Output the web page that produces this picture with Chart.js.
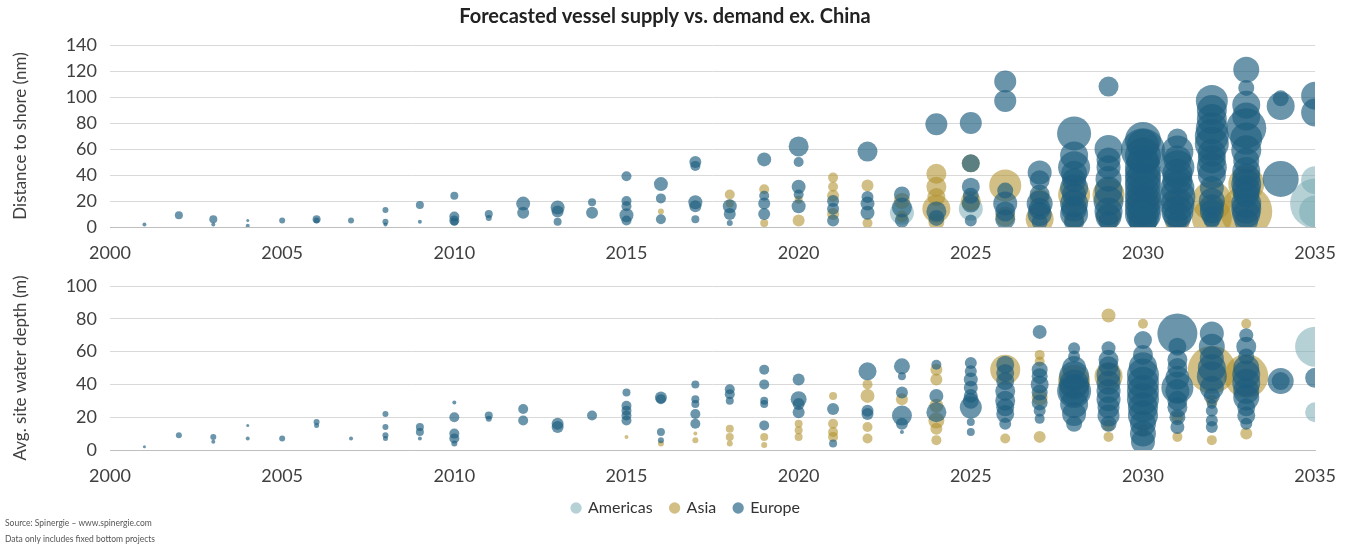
<!DOCTYPE html>
<html>
<head>
<meta charset="utf-8">
<script src="https://cdn.jsdelivr.net/npm/chart.js@4.4.1/dist/chart.umd.min.js"></script>
<style>
  html, body { margin: 0; padding: 0; background: #fff; }
  #wrap { position: relative; width: 1351px; height: 548px; overflow: hidden; }
  #shoreChart { position: absolute; left: 0; top: 0; }
  #depthChart { position: absolute; left: 0; top: 262px; }
  #note { position: absolute; left: 5px; top: 515px; font: 8.5px Lato, sans-serif; color: #555; line-height: 16px; }
</style>
</head>
<body>
<div id="wrap">
  <canvas id="shoreChart" width="1351" height="262"></canvas>
  <canvas id="depthChart" width="1351" height="286"></canvas>
  <div id="note">Source: Spinergie – www.spinergie.com<br>Data only includes fixed bottom projects</div>
</div>
<script>
// Region names shown in the legend
const regions = ['Americas', 'Asia', 'Europe'];
const xTicks = [2000, 2005, 2010, 2015, 2020, 2025, 2030, 2035];

// Distance to shore (nm): [commissioning year, distance, bubble radius]
const shoreAmericas = [
  [2023, 11, 12], [2025, 14, 12], [2035, 36, 14], [2035, 18, 25], [2035, 12, 16]
];
const shoreAsia = [
  [2016, 12, 3], [2018, 25, 5], [2018, 18, 4], [2019, 29, 5], [2019, 3, 4],
  [2020, 5, 6], [2020, 21, 4], [2021, 38, 5], [2021, 31, 5], [2021, 24, 6], [2021, 10, 6],
  [2022, 32, 6], [2022, 3, 5], [2023, 20, 8], [2023, 8, 6],
  [2024, 41, 10], [2024, 31, 10], [2024, 23, 9], [2024, 14, 14], [2024, 4, 8],
  [2025, 49, 9], [2025, 20, 10], [2026, 32, 16], [2026, 8, 10],
  [2027, 22, 10], [2027, 6, 14], [2028, 25, 16], [2028, 6, 10],
  [2029, 25, 16], [2029, 8, 12], [2030, 20, 16], [2030, 8, 14],
  [2031, 3, 12], [2031, 20, 12], [2032, 20, 20], [2032, 7, 20],
  [2033, 33, 18], [2033, 12, 26]
];
const shoreEurope = [
  [2001, 2, 2], [2002, 9, 4], [2003, 6, 4], [2003, 2, 2], [2004, 5, 1.5], [2004, 1, 2],
  [2005, 5, 3], [2006, 6, 4], [2006, 5, 3], [2007, 5, 3],
  [2008, 13, 3], [2008, 4, 3], [2008, 2, 2], [2009, 17, 4], [2009, 4, 2],
  [2010, 24, 4], [2010, 8, 5], [2010, 5, 5], [2010, 4, 4], [2011, 10, 4], [2011, 7, 3],
  [2012, 18, 7], [2012, 11, 6], [2013, 15, 7], [2013, 12, 6], [2013, 4, 4],
  [2014, 19, 4], [2014, 11, 6],
  [2015, 39, 5], [2015, 20, 5], [2015, 16, 5], [2015, 9, 7], [2015, 5, 5],
  [2016, 33, 7], [2016, 22, 5], [2016, 6, 5],
  [2017, 50, 6], [2017, 47, 5], [2017, 19, 7], [2017, 16, 6], [2017, 6, 4],
  [2018, 16, 7], [2018, 10, 6], [2018, 3, 3],
  [2019, 52, 7], [2019, 24, 5], [2019, 18, 6], [2019, 10, 6],
  [2020, 62, 10], [2020, 50, 5], [2020, 31, 7], [2020, 25, 5], [2020, 16, 7],
  [2021, 20, 6], [2021, 14, 6], [2021, 5, 6],
  [2022, 58, 10], [2022, 23, 6], [2022, 18, 7], [2022, 11, 7],
  [2023, 25, 8], [2023, 15, 10], [2023, 5, 7],
  [2024, 79, 11], [2024, 12, 10], [2024, 7, 8],
  [2025, 80, 11], [2025, 49, 9], [2025, 31, 9], [2025, 24, 8], [2025, 18, 9], [2025, 5, 6],
  [2026, 112, 11], [2026, 97, 11], [2026, 28, 8], [2026, 18, 12], [2026, 12, 10], [2026, 6, 10],
  [2027, 42, 12], [2027, 36, 10], [2027, 25, 10], [2027, 18, 13], [2027, 14, 11], [2027, 10, 12], [2027, 4, 8],
  [2028, 72, 17], [2028, 55, 14], [2028, 46, 16], [2028, 41, 13], [2028, 36, 12], [2028, 30, 14], [2028, 25, 12],
  [2028, 18, 14], [2028, 14, 13], [2028, 10, 14], [2028, 4, 10],
  [2029, 108, 10], [2029, 60, 14], [2029, 52, 12], [2029, 46, 12], [2029, 37, 13], [2029, 28, 14],
  [2029, 20, 15], [2029, 12, 14], [2029, 8, 13], [2029, 5, 10],
  [2030, 67, 18], [2030, 63, 16], [2030, 59, 22], [2030, 55, 18], [2030, 51, 16], [2030, 46, 18], [2030, 41, 18],
  [2030, 36, 18], [2030, 31, 18], [2030, 25, 18], [2030, 20, 18], [2030, 15, 18], [2030, 10, 18], [2030, 8, 16], [2030, 4, 14],
  [2031, 68, 10], [2031, 58, 16], [2031, 52, 14], [2031, 46, 17], [2031, 41, 15], [2031, 36, 15], [2031, 30, 17],
  [2031, 23, 18], [2031, 17, 17], [2031, 12, 16], [2031, 8, 14], [2031, 5, 10],
  [2032, 97, 16], [2032, 90, 15], [2032, 83, 15], [2032, 76, 16], [2032, 70, 17], [2032, 64, 17], [2032, 57, 14],
  [2032, 52, 14], [2032, 46, 15], [2032, 40, 14], [2032, 30, 12], [2032, 20, 13], [2032, 16, 12], [2032, 12, 12],
  [2032, 8, 10], [2032, 5, 8],
  [2033, 121, 13], [2033, 107, 8], [2033, 94, 14], [2033, 85, 14], [2033, 76, 20], [2033, 68, 16], [2033, 59, 15],
  [2033, 51, 13], [2033, 43, 14], [2033, 38, 14], [2033, 33, 15], [2033, 29, 14], [2033, 25, 13], [2033, 18, 15],
  [2033, 14, 15], [2033, 10, 14], [2033, 5, 12],
  [2034, 99, 8], [2034, 93, 14], [2034, 37, 18],
  [2035, 101, 14], [2035, 88, 14]
];

// Average site water depth (m): [commissioning year, depth, bubble radius]
const depthAmericas = [
  [2035, 63, 20], [2035, 23, 10]
];
const depthAsia = [
  [2015, 8, 2], [2016, 4, 3], [2017, 10, 2], [2017, 6, 3],
  [2018, 13, 4], [2018, 8, 4], [2018, 4, 3], [2019, 8, 4], [2019, 3, 3],
  [2020, 16, 4], [2020, 12, 4], [2020, 8, 4],
  [2021, 33, 4], [2021, 16, 5], [2021, 11, 5], [2021, 8, 5],
  [2022, 40, 5], [2022, 33, 7], [2022, 14, 5], [2022, 7, 5], [2023, 31, 6],
  [2024, 49, 6], [2024, 43, 6], [2024, 27, 7], [2024, 18, 8], [2024, 13, 6], [2024, 6, 5],
  [2026, 49, 15], [2026, 7, 5], [2027, 58, 5], [2027, 54, 5], [2027, 32, 8], [2027, 8, 6],
  [2028, 42, 16], [2029, 82, 7], [2029, 45, 14], [2029, 15, 6], [2029, 8, 5],
  [2030, 77, 5], [2030, 12, 6], [2031, 20, 6], [2031, 8, 5],
  [2032, 49, 24], [2032, 30, 6], [2032, 6, 5], [2033, 77, 5], [2033, 45, 22], [2033, 10, 6]
];
const depthEurope = [
  [2001, 2, 1.5], [2002, 9, 3], [2003, 8, 3], [2003, 5, 2], [2004, 15, 1.5], [2004, 7, 2],
  [2005, 7, 3], [2006, 17, 3], [2006, 15, 2.5], [2007, 7, 2],
  [2008, 22, 3], [2008, 14, 3], [2008, 9, 3], [2008, 7, 2.5], [2009, 14, 4], [2009, 11, 4], [2009, 7, 2],
  [2010, 29, 2], [2010, 20, 5], [2010, 10, 5], [2010, 7, 5], [2010, 4, 3],
  [2011, 21, 4], [2011, 19, 3], [2012, 25, 5], [2012, 18, 5], [2013, 16, 6], [2013, 14, 6], [2014, 21, 5],
  [2015, 35, 4], [2015, 27, 5], [2015, 24, 5], [2015, 21, 5], [2015, 18, 5],
  [2016, 32, 6], [2016, 31, 5], [2016, 11, 4], [2016, 6, 3],
  [2017, 40, 4], [2017, 31, 4], [2017, 28, 4], [2017, 22, 5], [2017, 16, 5],
  [2018, 37, 5], [2018, 34, 5], [2018, 30, 4],
  [2019, 49, 5], [2019, 40, 5], [2019, 30, 4], [2019, 28, 4], [2019, 15, 5],
  [2020, 43, 6], [2020, 31, 8], [2020, 28, 6], [2020, 23, 6], [2021, 25, 6], [2021, 4, 4],
  [2022, 48, 9], [2022, 24, 6], [2022, 22, 6],
  [2023, 51, 8], [2023, 45, 4], [2023, 35, 6], [2023, 21, 10], [2023, 16, 6], [2023, 11, 2],
  [2024, 52, 5], [2024, 33, 7], [2024, 23, 10],
  [2025, 53, 6], [2025, 48, 6], [2025, 43, 7], [2025, 38, 7], [2025, 33, 7], [2025, 30, 8], [2025, 26, 11], [2025, 17, 4], [2025, 11, 4],
  [2026, 52, 9], [2026, 47, 9], [2026, 42, 9], [2026, 36, 10], [2026, 30, 10], [2026, 26, 9], [2026, 22, 9], [2026, 16, 6],
  [2027, 72, 7], [2027, 49, 8], [2027, 45, 8], [2027, 40, 9], [2027, 35, 8], [2027, 29, 8], [2027, 24, 6], [2027, 19, 5],
  [2028, 62, 6], [2028, 57, 6], [2028, 50, 12], [2028, 45, 15], [2028, 40, 15], [2028, 36, 17], [2028, 36, 15],
  [2028, 28, 14], [2028, 22, 12], [2028, 16, 8],
  [2029, 62, 7], [2029, 55, 10], [2029, 51, 10], [2029, 46, 12], [2029, 41, 12], [2029, 36, 12], [2029, 31, 12],
  [2029, 26, 11], [2029, 21, 11], [2029, 16, 8],
  [2030, 67, 9], [2030, 58, 10], [2030, 51, 14], [2030, 46, 16], [2030, 41, 16], [2030, 36, 16], [2030, 31, 16],
  [2030, 26, 15], [2030, 21, 15], [2030, 16, 13], [2030, 10, 13], [2030, 5, 12],
  [2031, 71, 20], [2031, 63, 9], [2031, 55, 10], [2031, 50, 10], [2031, 44, 12], [2031, 38, 16], [2031, 36, 12],
  [2031, 30, 10], [2031, 26, 10], [2031, 20, 8], [2031, 14, 7],
  [2032, 71, 12], [2032, 63, 13], [2032, 56, 12], [2032, 50, 14], [2032, 45, 15], [2032, 38, 12], [2032, 33, 8],
  [2032, 28, 5], [2032, 24, 6], [2032, 18, 6], [2032, 14, 6],
  [2033, 70, 7], [2033, 63, 10], [2033, 57, 8], [2033, 50, 13], [2033, 46, 14], [2033, 41, 14], [2033, 36, 13],
  [2033, 32, 13], [2033, 26, 9], [2033, 21, 9], [2033, 16, 6],
  [2034, 42, 13], [2034, 42, 9], [2035, 44, 10]
];

const FONT = 'Lato, "Open Sans", sans-serif';
const regionColors = {
  Americas: 'rgba(120, 172, 178, 0.55)',
  Asia: 'rgba(175, 145, 45, 0.58)',
  Europe: 'rgba(30, 94, 128, 0.66)'
};
// Europe is drawn on top, Americas underneath
const drawOrder = { Americas: 2, Asia: 1, Europe: 0 };

const toPoints = rows => rows.map(([x, y, r]) => ({ x, y, r }));

function makeDatasets(rowsByRegion) {
  return regions.map((name, i) => ({
    label: name,
    data: toPoints(rowsByRegion[i]),
    backgroundColor: regionColors[name],
    borderColor: regionColors[name],
    borderWidth: 0,
    order: drawOrder[name],
    clip: 0
  }));
}

// Moves the legend row sideways after layout
const legendShift = {
  id: 'legendShift',
  afterLayout(chart, args, opts) {
    const lg = chart.legend;
    if (lg && opts.dx) { lg.left += opts.dx; lg.right += opts.dx; }
  }
};

function makeOptions(yMax, yTitle, xAxisHeight, showLegend, showTitle, layoutPad) {
  return {
    responsive: false,
    animation: false,
    events: [],
    layout: { padding: layoutPad },
    plugins: {
      title: {
        display: showTitle,
        text: 'Forecasted vessel supply vs. demand ex. China',
        color: '#222',
        font: { family: FONT, size: 20, weight: 'bold' },
        padding: { top: 5, bottom: 16 }
      },
      legend: {
        display: showLegend,
        position: 'bottom',
        labels: {
          usePointStyle: true,
          pointStyle: 'circle',
          boxWidth: 8,
          boxHeight: 8,
          padding: 18,
          color: '#333',
          font: { family: FONT, size: 16 },
          sort: (a, b) => a.datasetIndex - b.datasetIndex
        }
      },
      legendShift: { dx: 21 },
      tooltip: { enabled: false }
    },
    scales: {
      x: {
        type: 'linear',
        min: 2000,
        max: 2035,
        afterBuildTicks: axis => { axis.ticks = xTicks.map(v => ({ value: v })); },
        ticks: {
          color: '#404040',
          font: { family: FONT, size: 18 },
          padding: 15,
          callback: v => String(v)
        },
        grid: { display: false, drawTicks: false },
        border: { display: true, color: '#bfbfbf', width: 1 },
        afterFit: axis => { axis.height = xAxisHeight; }
      },
      y: {
        min: 0,
        max: yMax,
        ticks: {
          stepSize: 20,
          color: '#404040',
          font: { family: FONT, size: 18 },
          padding: 13
        },
        grid: { color: '#d9d9d9', lineWidth: 1, drawTicks: false },
        border: { display: false },
        title: {
          display: true,
          text: yTitle,
          color: '#404040',
          font: { family: FONT, size: 17 },
          padding: { top: 0, bottom: 4 }
        },
        afterFit: axis => { axis.width = 100; }
      }
    }
  };
}

new Chart(document.getElementById('shoreChart'), {
  type: 'bubble',
  data: { datasets: makeDatasets([shoreAmericas, shoreAsia, shoreEurope]) },
  options: makeOptions(140, 'Distance to shore (nm)', 35, false, true,
    { left: 10, right: 31, top: 0, bottom: 0 })
});

new Chart(document.getElementById('depthChart'), {
  type: 'bubble',
  data: { datasets: makeDatasets([depthAmericas, depthAsia, depthEurope]) },
  options: makeOptions(100, 'Avg. site water depth (m)', 32, true, false,
    { left: 10, right: 31, top: 23, bottom: 22 }),
  plugins: [legendShift]
});
</script>
</body>
</html>
